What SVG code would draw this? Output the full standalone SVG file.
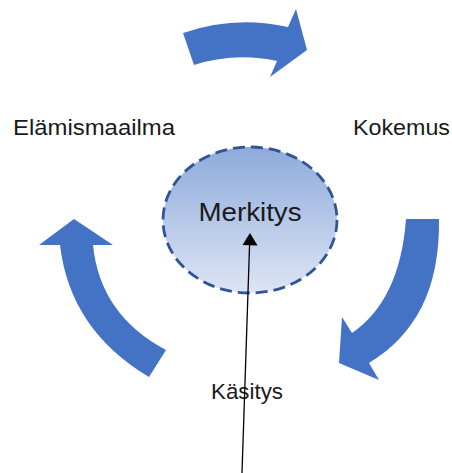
<svg xmlns="http://www.w3.org/2000/svg" width="452" height="473" viewBox="0 0 452 473">
<style>
.arrow{fill:#4472C4}
.lbl{font-family:"Liberation Sans",Arial,sans-serif;font-size:22px;fill:#1a1a1a}
</style>
<defs>
<linearGradient id="g" x1="0" y1="0" x2="0" y2="1">
<stop offset="0" stop-color="#8eaadb"/>
<stop offset="1" stop-color="#dde5f5"/>
</linearGradient>
</defs>
<g id="arrow-top"><path class="arrow" d="M183,33 Q235,15 288,27 L296,9 L307,50 L270,77 L277,61 Q235,52 194,65 Z"/></g>
<g id="arrow-right"><path class="arrow" d="M406,219 L439,219 C440,290 415,335 369,363 L379,380 L339,363 L342,317 L352,333 Q400,300 406,219 Z"/></g>
<g id="arrow-left"><path class="arrow" d="M74,219 L113,245 L93,245 Q100,315 166,350 L149,377 Q70,330 60,245 L39,245 Z"/></g>
<g id="merkitys">
<ellipse cx="250" cy="220" rx="87" ry="73" fill="url(#g)" stroke="#2f5597" stroke-width="2.8" stroke-dasharray="12,6"/>
<text class="lbl" x="250" y="221" text-anchor="middle" style="font-size:26px" textLength="103" lengthAdjust="spacingAndGlyphs">Merkitys</text>
</g>
<g id="elamismaailma"><text class="lbl" x="13" y="135" textLength="162" lengthAdjust="spacingAndGlyphs">Elämismaailma</text></g>
<g id="kokemus"><text class="lbl" x="353" y="135" textLength="97" lengthAdjust="spacingAndGlyphs">Kokemus</text></g>
<g id="kasitys"><text class="lbl" x="211" y="399" textLength="72" lengthAdjust="spacingAndGlyphs">Käsitys</text></g>
<g id="connectors">
<line x1="242" y1="473" x2="249.6" y2="244" stroke="#000" stroke-width="1.3"/>
<polygon points="250,233 257.5,245.5 242.5,245" fill="#000"/>
</g>
</svg>
